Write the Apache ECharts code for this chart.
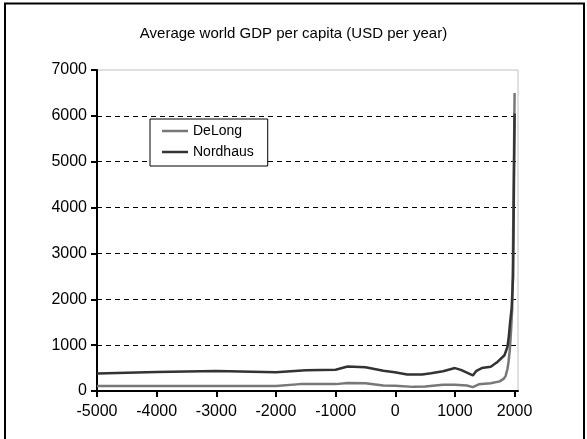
<!DOCTYPE html>
<html>
<head>
<meta charset="utf-8">
<script src="https://cdn.jsdelivr.net/npm/echarts@6/dist/echarts.min.js"></script>
<style>html,body{margin:0;padding:0;background:#fff}#c{width:587px;height:439px}</style>
</head>
<body>
<div id="c"></div>
<script>
const titleText = 'Average world GDP per capita (USD per year)';
const seriesNames = ['DeLong', 'Nordhaus'];
const xTicks = [-5000, -4000, -3000, -2000, -1000, 0, 1000, 2000];
const yTicks = [0, 1000, 2000, 3000, 4000, 5000, 6000, 7000];

const delongYears = [-5000, -4000, -3000, -2000, -1600, -1000, -800, -500, -200, 0, 300, 500, 800, 1000, 1200, 1300, 1400, 1600, 1750, 1820, 1850, 1880, 1900, 1920, 1940, 1960, 1970, 1980, 1990, 2000];
const delongValues = [110, 110, 110, 110, 150, 150, 175, 170, 120, 115, 90, 100, 135, 135, 120, 85, 145, 170, 210, 270, 330, 480, 650, 900, 1300, 1800, 2700, 4000, 5200, 6500];

const nordhausYears = [-5000, -4000, -3000, -2000, -1500, -1000, -800, -500, -200, -10, 10, 200, 450, 600, 800, 1000, 1100, 1300, 1360, 1450, 1600, 1700, 1830, 1880, 1900, 1925, 1950, 1975, 2000];
const nordhausValues = [380, 415, 435, 410, 450, 465, 535, 520, 440, 410, 380, 360, 360, 385, 430, 500, 460, 340, 440, 500, 530, 620, 780, 960, 1150, 1500, 1800, 2500, 6050];

const pairs = (xs, ys) => xs.map((x, i) => [x, ys[i]]);
const FONT = 'Liberation Sans';
const plain = v => String(v);

const chart = echarts.init(document.getElementById('c'), null, {renderer: 'canvas'});
chart.setOption({
  animation: false,
  backgroundColor: '#fff',
  textStyle: {fontFamily: FONT},
  title: {
    text: titleText, left: 'center', top: 21,
    textStyle: {fontFamily: FONT, fontSize: 15, fontWeight: 'normal', color: '#000'}
  },
  graphic: [{
    type: 'rect', shape: {x: 5, y: 3.5, width: 579, height: 460},
    style: {fill: 'none', stroke: '#000', lineWidth: 2}, silent: true, z: 100
  }],
  legend: {
    orient: 'vertical', left: 150, top: 119,
    data: seriesNames,
    icon: 'rect',
    itemWidth: 26, itemHeight: 2.5, itemGap: 5,
    padding: [4, 14, 6, 12],
    borderColor: '#000', borderWidth: 1, backgroundColor: '#fff',
    textStyle: {fontFamily: FONT, fontSize: 14, color: '#000', lineHeight: 16}
  },
  grid: {
    left: 97, right: 69, top: 70, bottom: 48,
    show: true, borderColor: '#c0c0c0', borderWidth: 1, containLabel: false
  },
  xAxis: {
    type: 'value', min: -5000, max: 2057, interval: 1000,
    axisLine: {show: true, onZero: false, lineStyle: {color: '#000', width: 2}},
    axisTick: {show: true, inside: false, length: 6, lineStyle: {color: '#000', width: 2}, customValues: xTicks},
    axisLabel: {fontFamily: FONT, fontSize: 16, color: '#000', margin: 13, customValues: xTicks, formatter: plain},
    splitLine: {show: false}
  },
  yAxis: {
    type: 'value', min: 0, max: 7000, interval: 1000,
    axisLine: {show: true, onZero: false, lineStyle: {color: '#000', width: 2}},
    axisTick: {show: true, inside: false, length: 6, lineStyle: {color: '#000', width: 2}},
    axisLabel: {fontFamily: FONT, fontSize: 16, color: '#000', margin: 10, customValues: yTicks, formatter: plain},
    splitLine: {show: true, showMinLine: false, showMaxLine: false, lineStyle: {color: '#000', width: 1, type: [5, 4]}}
  },
  series: [
    {
      name: seriesNames[0], type: 'line', data: pairs(delongYears, delongValues),
      symbol: 'none', showSymbol: false, color: '#777777',
      itemStyle: {color: '#777777'},
      lineStyle: {color: '#777777', width: 2.5}, z: 3
    },
    {
      name: seriesNames[1], type: 'line', data: pairs(nordhausYears, nordhausValues),
      symbol: 'none', showSymbol: false, color: '#333333',
      itemStyle: {color: '#333333'},
      lineStyle: {color: '#333333', width: 2.5}, z: 4
    }
  ]
});
</script>
</body>
</html>
